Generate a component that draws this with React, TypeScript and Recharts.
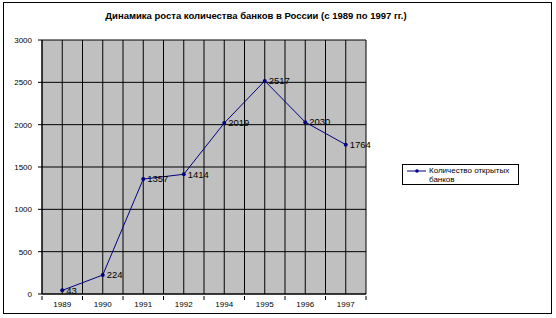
import * as React from 'react';
import {
  LineChart,
  Line,
  XAxis,
  YAxis,
  CartesianGrid,
  LabelList,
} from 'recharts';

// Data
const YEARS = ['1989', '1990', '1991', '1992', '1994', '1995', '1996', '1997'];
const BANKS = [43, 224, 1357, 1414, 2019, 2517, 2030, 1764];
const Y_TICKS = [0, 500, 1000, 1500, 2000, 2500, 3000];

const TITLE = 'Динамика роста количества банков в России (с 1989 по 1997 гг.)';
const SERIES_NAME = 'Количество открытых банков';

const FONT = 'Arial, "Liberation Sans", sans-serif';
const NAVY = '#000080';

const W = 556;
const H = 318;
const PLOT_LEFT = 42;
const PLOT_RIGHT = 366;
const PLOT_TOP = 40;
const PLOT_BOTTOM = 294;
const BAND = (PLOT_RIGHT - PLOT_LEFT) / YEARS.length;

const data = YEARS.map((year, i) => ({ year, banks: BANKS[i] }));

// Excel-style category axis: labels in the middle, tick marks between categories
const YearTick = (props: any) => {
  const { x, y, payload, index } = props;
  const last = index === YEARS.length - 1;
  return (
    <g>
      <line x1={x - BAND / 2} x2={x - BAND / 2} y1={y - 6} y2={y - 2} stroke="#000" />
      {last && <line x1={x + BAND / 2} x2={x + BAND / 2} y1={y - 6} y2={y - 2} stroke="#000" />}
      <text x={x} y={y + 5} textAnchor="middle" fontSize={8} fontFamily={FONT} fill="#000">
        {payload.value}
      </text>
    </g>
  );
};

const LegendBox = () => (
  <div
    style={{
      position: 'absolute',
      left: 402,
      top: 164,
      width: 117,
      height: 21,
      border: '1px solid #000',
      background: '#fff',
      fontFamily: FONT,
      fontSize: 8,
      lineHeight: '9px',
      boxSizing: 'border-box',
    }}
  >
    <svg width={20} height={8} style={{ position: 'absolute', left: 4, top: 2 }}>
      <line x1={0} x2={19} y1={4} y2={4} stroke={NAVY} />
      <circle cx={10} cy={4} r={1.8} fill={NAVY} />
    </svg>
    <div style={{ position: 'absolute', left: 26, top: 1, width: 88 }}>{SERIES_NAME}</div>
  </div>
);

export default function App() {
  return (
    <div style={{ position: 'absolute', left: 0, top: 0, width: W, height: H, background: '#fff' }}>
      <div
        style={{
          position: 'absolute',
          left: 3,
          top: 2,
          width: 549,
          height: 312,
          border: '1px solid #000',
          boxSizing: 'border-box',
        }}
      />
      <div
        style={{
          position: 'absolute',
          left: 0,
          top: 10,
          width: 512,
          textAlign: 'center',
          fontFamily: FONT,
          fontWeight: 'bold',
          fontSize: 9.5,
        }}
      >
        {TITLE}
      </div>
      <div style={{ position: 'absolute', left: 0, top: 0 }}>
        <LineChart
          width={W}
          height={H}
          data={data}
          margin={{ top: PLOT_TOP, right: W - PLOT_RIGHT, bottom: 0, left: 0 }}
        >
          <CartesianGrid
            fill="#C0C0C0"
            fillOpacity={1}
            stroke="#000"
            strokeWidth={1}
            verticalCoordinatesGenerator={({ offset }: any) =>
              Array.from({ length: YEARS.length * 2 + 1 }, (_, i) => offset.left + (i * offset.width) / (YEARS.length * 2))
            }
          />
          <XAxis
            dataKey="year"
            height={H - PLOT_BOTTOM}
            interval={0}
            padding={{ left: BAND / 2, right: BAND / 2 }}
            stroke="#000"
            tickLine={false}
            tick={<YearTick />}
          />
          <YAxis
            width={PLOT_LEFT}
            domain={[0, 3000]}
            ticks={Y_TICKS}
            interval={0}
            stroke="#000"
            tickSize={4}
            tickMargin={6}
            tick={{ fontSize: 8, fontFamily: FONT, fill: '#000' }}
          />
          <Line
            type="linear"
            dataKey="banks"
            stroke={NAVY}
            strokeWidth={1}
            dot={{ r: 2, fill: NAVY, stroke: NAVY, strokeWidth: 0 }}
            isAnimationActive={false}
          >
            <LabelList
              dataKey="banks"
              position="right"
              offset={4}
              fontSize={9.5}
              fontFamily={FONT}
              fill="#000"
            />
          </Line>
        </LineChart>
      </div>
      <LegendBox />
    </div>
  );
}
